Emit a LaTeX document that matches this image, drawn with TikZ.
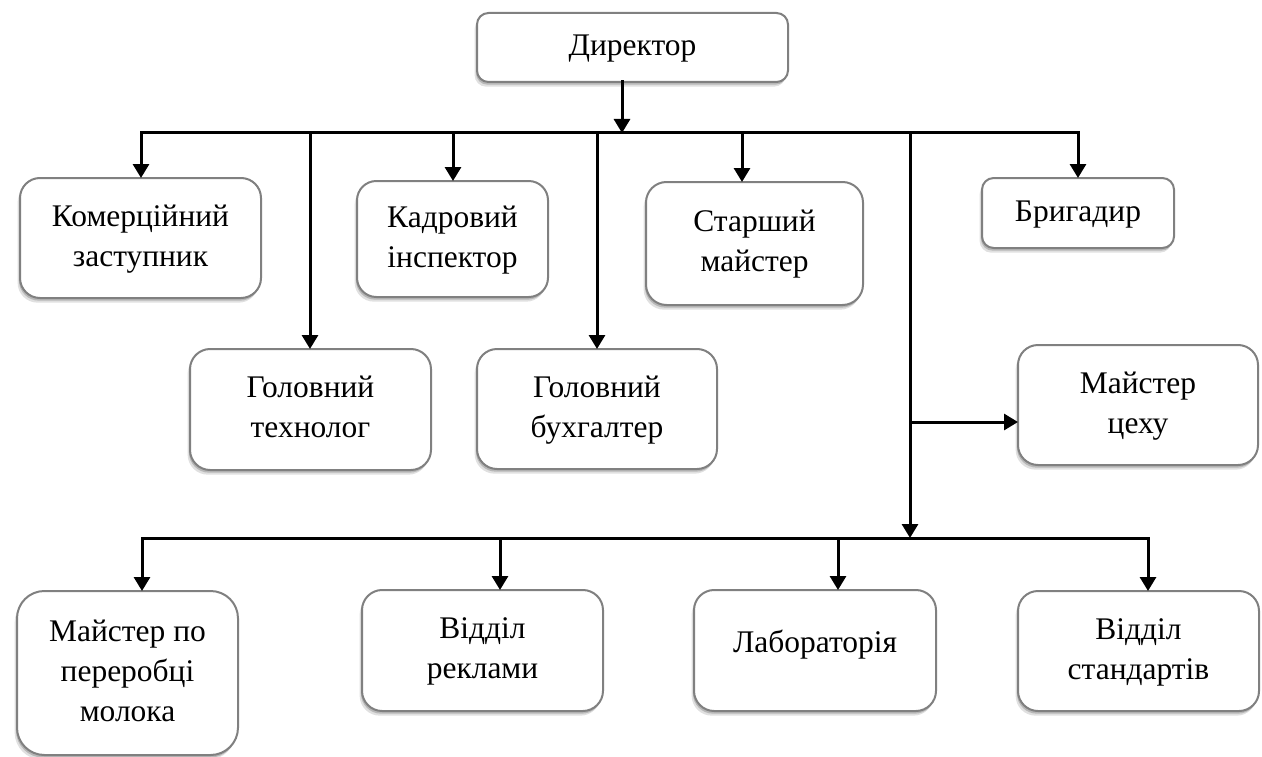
\documentclass[tikz,border=0pt]{standalone}
\usepackage{fontspec}
\setmainfont{Liberation Serif}
\usetikzlibrary{arrows.meta,shadows}
\tikzset{
  ob/.style={draw=black!50, line width=1.5pt, fill=white, inner sep=0pt, outer sep=0pt,
    align=center, font=\fontsize{23.6pt}{30pt}\selectfont,
    drop shadow={shadow xshift=-0.8pt, shadow yshift=-2pt, opacity=0.18, fill=black},
    drop shadow={shadow xshift=-1.8pt, shadow yshift=-3.5pt, opacity=0.12, fill=black}},
  ln/.style={line width=2.25pt, line cap=rect, draw=black},
  arr/.style={ln, -{Triangle[length=10.5pt,width=12pt]}},
}
% name, x1, y1, x2, y2, text   (pixel coordinates of the reference)
\newcommand\orgbox[6]{%
  \node[ob, minimum width={(#4-#2)*0.75pt}, minimum height={(#5-#3)*0.75pt},
        rounded corners={(#5-#3)*0.125pt}]
    (#1) at ({(#2+#4)/2},{(#3+#5)/2}) {#6};}
\begin{document}
\begin{tikzpicture}[x=0.75pt, y=-0.75pt]
\fill[white] (0,0) rectangle (1262,756);
\useasboundingbox (0,0) rectangle (1262,756);

\orgbox{dir}{477}{13}{788}{82}{\strut Директор}
\orgbox{kom}{20}{178}{261}{298}{\strut Комерційний\\ заступник\strut}
\orgbox{tech}{190}{349}{431}{470}{\strut Головний\\ технолог\strut}
\orgbox{kadr}{357}{181}{548}{297}{\strut Кадровий\\ інспектор\strut}
\orgbox{buh}{477}{349}{717}{469}{\strut Головний\\ бухгалтер\strut}
\orgbox{star}{646}{182}{863}{305}{\strut Старший\\ майстер\strut}
\orgbox{brig}{982}{178}{1174}{248}{\strut Бригадир}
\orgbox{mc}{1018}{345}{1258}{465}{\strut Майстер\\ цеху\strut}
\orgbox{mpm}{17}{591}{238}{755}{\strut Майстер по\\ переробці\\ молока\strut}
\orgbox{rek}{362}{590}{603}{711}{\strut Відділ\\ реклами\strut}
\orgbox{lab}{694}{590}{936}{711}{\strut\raisebox{4.5pt}{Лабораторія}}
\orgbox{std}{1018}{591}{1259}{711}{\strut Відділ\\ стандартів\strut}

% upper bus
\coordinate (d0) at (622,133);
\coordinate (k0) at (141,133);
\coordinate (t0) at (310,133);
\coordinate (a0) at (453,133);
\coordinate (b0) at (597,133);
\coordinate (s0) at (742,133);
\coordinate (v0) at (910,133);
\coordinate (g0) at (1078,133);
% lower bus
\coordinate (v1) at (910,538);
\coordinate (m0) at (910,422);
\coordinate (p0) at (142,538);
\coordinate (r0) at (500,538);
\coordinate (l0) at (838,538);
\coordinate (q0) at (1148,538);

\draw[arr] (d0 |- dir.south) -- (d0);
\draw[ln] (k0) -- (g0);
\draw[arr] (k0) -- (k0 |- kom.north);
\draw[arr] (t0) -- (t0 |- tech.north);
\draw[arr] (a0) -- (a0 |- kadr.north);
\draw[arr] (b0) -- (b0 |- buh.north);
\draw[arr] (s0) -- (s0 |- star.north);
\draw[arr] (g0) -- (g0 |- brig.north);
\draw[arr] (v0) -- (v1);
\draw[arr] (m0) -- (m0 -| mc.west);

\draw[ln] (p0) -- (q0);
\draw[arr] (p0) -- (p0 |- mpm.north);
\draw[arr] (r0) -- (r0 |- rek.north);
\draw[arr] (l0) -- (l0 |- lab.north);
\draw[arr] (q0) -- (q0 |- std.north);
\end{tikzpicture}
\end{document}
